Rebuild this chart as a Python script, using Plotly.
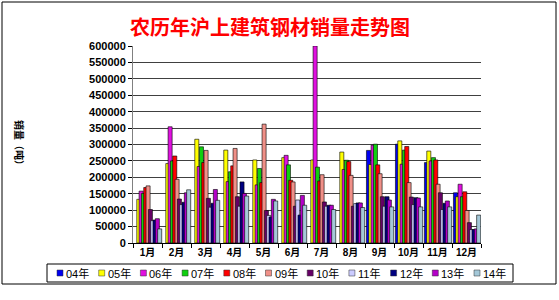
import plotly.graph_objects as go

months = ["1月", "2月", "3月", "4月", "5月", "6月", "7月", "8月", "9月", "10月", "11月", "12月"]
series_names = ["04年", "05年", "06年", "07年", "08年", "09年", "10年", "11年", "12年", "13年", "14年"]
colors = ["#0000F0", "#FFFF00", "#E010E0", "#10D010", "#FF0000", "#F09088",
          "#660066", "#CCCCFF", "#000080", "#B400C8", "#A4C8D8"]

y04 = [None, None, None, None, None, None, None, None, 282000, 301000, 245000, 153000]
y05 = [133000, 242000, 316000, 283000, 253000, 260000, 253000, 277000, 239000, 311000, 280000, 141000]
y06 = [158000, 354000, 233000, 187000, 177000, 267000, 600000, 224000, 298000, 240000, 250000, 179000]
y07 = [151000, 250000, 293000, 217000, 227000, 238000, 231000, 252000, 301000, 283000, 260000, 141000]
y08 = [169000, 265000, 245000, 235000, 184000, 191000, 189000, 248000, 238000, 294000, 253000, 156000]
y09 = [174000, 194000, 282000, 288000, 362000, 186000, 208000, 206000, 211000, 184000, 179000, 99000]
y10 = [102000, 134000, 136000, 141000, 99000, 112000, 125000, 112000, 141000, 140000, 153000, 62000]
y11 = [68000, 117000, 109000, 112000, 84000, 131000, 112000, 120000, 112000, 117000, 102000, 41000]
y12 = [70000, 124000, 121000, 186000, 79000, 85000, 115000, 122000, 141000, 138000, 121000, 41000]
y13 = [74000, 153000, 163000, 151000, 133000, 145000, 115000, 122000, 131000, 137000, 128000, 43000]
y14 = [43000, 162000, 130000, 143000, 128000, 115000, 102000, 108000, 110000, 110000, 110000, 85000]
series_values = [y04, y05, y06, y07, y08, y09, y10, y11, y12, y13, y14]

# layout geometry (pixels)
W, H = 559, 300
L, R, T, B = 133, 481, 46, 243
PW, PH = R - L, B - T

def px2x(px):
    return (px - L) / PW

def px2y(py):
    return (B - py) / PH

fig = go.Figure()
step, bw, start = 0.08, 0.14, -0.45
for i, (name, vals, col) in enumerate(zip(series_names, series_values, colors)):
    fig.add_trace(go.Bar(
        x=months, y=vals, name=name,
        marker=dict(color=col, line=dict(color="black", width=0.6)),
        width=bw, offset=start + i * step, showlegend=False,
    ))

shapes = []
annotations = []
# outer border
shapes.append(dict(type="rect", xref="paper", yref="paper",
                   x0=px2x(2), x1=px2x(556), y0=px2y(284), y1=px2y(2),
                   line=dict(color="black", width=1)))
# legend box
shapes.append(dict(type="rect", xref="paper", yref="paper",
                   x0=px2x(47), x1=px2x(513), y0=px2y(282), y1=px2y(264),
                   line=dict(color="black", width=1)))
for i, (name, col) in enumerate(zip(series_names, colors)):
    sx = 57 + i * 41.7
    shapes.append(dict(type="rect", xref="paper", yref="paper",
                       x0=px2x(sx), x1=px2x(sx + 6), y0=px2y(276), y1=px2y(270),
                       fillcolor=col, line=dict(color="#333", width=0.5)))
    annotations.append(dict(text=name, xref="paper", yref="paper",
                            x=px2x(sx + 7), y=px2y(273), xanchor="left", yanchor="middle",
                            showarrow=False,
                            font=dict(family="Liberation Sans, Noto Sans CJK SC", size=11, color="black")))
# y-axis title
annotations.append(dict(text="销量（吨）", xref="paper", yref="paper",
                        x=px2x(20), y=px2y(145), textangle=90, showarrow=False,
                        xanchor="center", yanchor="middle",
                        font=dict(family="Noto Sans CJK SC", size=10, color="black", weight="bold")))

fig.update_layout(
    width=W, height=H,
    margin=dict(l=L, r=W - R, t=T, b=H - B, pad=0),
    paper_bgcolor="white", plot_bgcolor="white",
    barmode="overlay",
    title=dict(text="农历年沪上建筑钢材销量走势图", x=270 / W, y=1 - 28 / H,
               xanchor="center", yanchor="middle",
               font=dict(family="Noto Sans CJK SC", size=20, color="#FF0000", weight="bold")),
    xaxis=dict(type="category", categoryorder="array", categoryarray=months,
               showline=True, linecolor="black", linewidth=1,
               ticks="outside", tickson="boundaries", ticklen=4, tickcolor="black",
               tickangle=0,
               tickfont=dict(family="Liberation Sans, Noto Sans CJK SC", size=10, color="black", weight="bold"),
               showgrid=False, fixedrange=True),
    yaxis=dict(range=[0, 600000], dtick=50000, tickformat="d",
               showline=True, linecolor="#808080", linewidth=1,
               ticks="outside", ticklen=4, tickcolor="black",
               tickfont=dict(family="Liberation Sans", size=11, color="black", weight="bold"),
               showgrid=True, gridcolor="#404040", gridwidth=1, zeroline=False),
    shapes=shapes, annotations=annotations,
)

fig.write_html("out.html")
